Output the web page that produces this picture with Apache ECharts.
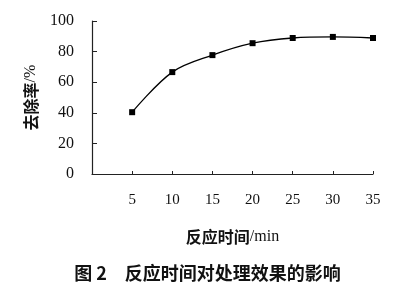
<!DOCTYPE html>
<html><head><meta charset="utf-8">
<script src="https://cdn.jsdelivr.net/npm/echarts@6/dist/echarts.min.js"></script>
<style>html,body{margin:0;padding:0;background:#fff}#c{width:415px;height:283px}</style>
</head><body><div id="c"></div>
<script>
var times = [5, 10, 15, 20, 25, 30, 35];
var removal = [40.4, 66.6, 77.7, 85.5, 88.9, 89.6, 88.9];
var yTicks = [0, 20, 40, 60, 80, 100];
var xNameCn = '反应时间', xNameUnit = '/min';
var yNameCn = '去除率', yNameUnit = '/%';
var caption = '图 2　反应时间对处理效果的影响';

var chart = echarts.init(document.getElementById('c'), null, {renderer: 'canvas'});
var serif = '"Liberation Serif", "Times New Roman", serif';
var cjk = '"Noto Sans CJK SC", sans-serif';
var nameRich = {
  cn: {fontFamily: cjk, fontSize: 16, fontWeight: 'bold', color: '#111'},
  u: {fontFamily: serif, fontSize: 16, color: '#111'}
};
chart.setOption({
  animation: false,
  backgroundColor: '#fff',
  title: {
    text: caption, left: 'center', top: 259,
    textStyle: {fontFamily: cjk, fontSize: 18, fontWeight: 'bold', color: '#111'}
  },
  grid: {left: 92, top: 21, right: 42, bottom: 109},
  xAxis: {
    type: 'value', min: 0, max: 35, interval: 5,
    name: '{cn|' + xNameCn + '}{u|' + xNameUnit + '}', nameLocation: 'middle', nameGap: 55,
    nameTextStyle: {rich: nameRich},
    axisLine: {lineStyle: {color: '#222', width: 1.2}},
    axisTick: {inside: true, length: 3, lineStyle: {color: '#222'}},
    axisLabel: {margin: 19, fontFamily: serif, fontSize: 15, color: '#111',
      formatter: function(v){ return v === 0 ? '' : String(v); }},
    splitLine: {show: false}
  },
  yAxis: {
    type: 'value', min: yTicks[0], max: yTicks[yTicks.length-1], interval: 20,
    name: '{cn|' + yNameCn + '}{u|' + yNameUnit + '}', nameLocation: 'middle', nameGap: 52,
    nameTextStyle: {rich: nameRich},
    axisLine: {show: true, lineStyle: {color: '#222', width: 1.2}},
    axisTick: {show: true, inside: true, length: 5, lineStyle: {color: '#222'}},
    axisLabel: {margin: 18, fontFamily: serif, fontSize: 16, color: '#111'},
    splitLine: {show: false}
  },
  series: [{
    type: 'line', smooth: 0.35,
    data: times.map(function(t, i){ return [t, removal[i]]; }),
    symbol: 'rect', symbolSize: 6,
    itemStyle: {color: '#000'},
    lineStyle: {color: '#000', width: 1.3}
  }]
});
</script></body></html>
